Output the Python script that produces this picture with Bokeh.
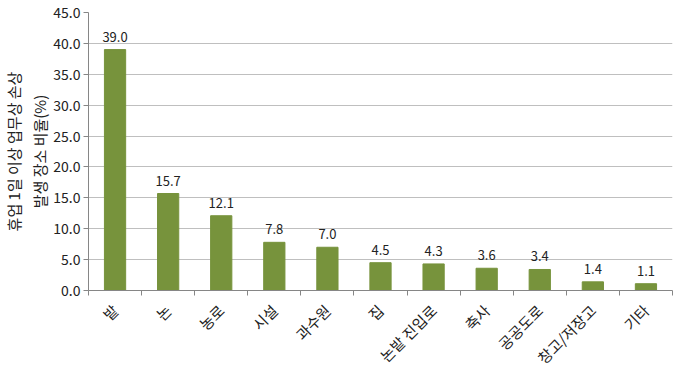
from bokeh.plotting import figure
from bokeh.models import ColumnDataSource, FixedTicker, NumeralTickFormatter, Range1d, LabelSet
from bokeh.core.properties import value
from bokeh.embed import file_html
from bokeh.resources import INLINE
import math

categories = ["밭", "논", "농로", "시설", "과수원", "집", "논밭 진입로", "축사", "공공도로", "창고/저장고", "기타"]
values = [39.0, 15.7, 12.1, 7.8, 7.0, 4.5, 4.3, 3.6, 3.4, 1.4, 1.1]
y_ticks = [0, 5, 10, 15, 20, 25, 30, 35, 40, 45]
y_label = "휴업 1일 이상 업무상 손상\n발생 장소 비율(%)"

FONT = "Noto Sans CJK KR"
xs = list(range(1, len(categories) + 1))
src = ColumnDataSource(dict(x=xs, y=values, lbl=["%.1f" % v for v in values]))

p = figure(width=680, height=378, output_backend="svg", toolbar_location=None,
           x_range=Range1d(0.5, len(categories) + 0.5), y_range=Range1d(0, 45),
           min_border_left=88, min_border_right=8, min_border_top=12, min_border_bottom=88)
p.outline_line_color = None
p.vbar(x="x", top="y", width=0.4, source=src, fill_color="#77933C", line_color="#77933C")

labels = LabelSet(x="x", y="y", text="lbl", source=src, text_align="center", text_baseline="bottom",
                  y_offset=8, text_font_size="13px", text_font=value(FONT), text_color="#222222")
p.add_layout(labels)

p.xaxis.ticker = FixedTicker(ticks=xs, minor_ticks=[x - 0.5 for x in xs] + [len(xs) + 0.5])
p.xaxis.major_label_overrides = {x: c for x, c in zip(xs, categories)}
p.xaxis.major_label_orientation = math.pi / 4
p.xaxis.major_tick_out = 0
p.xaxis.major_tick_in = 0
p.xaxis.minor_tick_out = 5
p.xaxis.minor_tick_in = 0
p.xaxis.minor_tick_line_color = "#868686"
p.xaxis.axis_line_color = "#868686"
p.xaxis.major_label_text_font = FONT
p.xaxis.major_label_text_font_size = "15px"
p.xaxis.major_label_text_color = "#222222"
p.xaxis.major_label_standoff = 12
p.xgrid.grid_line_color = None

p.yaxis.ticker = FixedTicker(ticks=y_ticks)
p.yaxis.formatter = NumeralTickFormatter(format="0.0")
p.yaxis.minor_tick_line_color = None
p.yaxis.major_tick_out = 5
p.yaxis.major_tick_in = 0
p.yaxis.major_tick_line_color = "#868686"
p.yaxis.axis_line_color = "#868686"
p.yaxis.major_label_text_font = FONT
p.yaxis.major_label_text_font_size = "14px"
p.yaxis.major_label_text_color = "#222222"
p.yaxis.major_label_standoff = 3
p.yaxis.axis_label = y_label
p.yaxis.axis_label_text_font = FONT
p.yaxis.axis_label_text_font_size = "15px"
p.yaxis.axis_label_text_font_style = "normal"
p.yaxis.axis_label_text_color = "#222222"
p.yaxis.axis_label_text_align = "left"
p.yaxis.axis_label_text_line_height = 1.25
p.yaxis.axis_label_standoff = 0
p.ygrid.grid_line_color = "#bfbfbf"
p.ygrid.ticker = FixedTicker(ticks=y_ticks)

open("out.html", "w").write(file_html(p, INLINE))
